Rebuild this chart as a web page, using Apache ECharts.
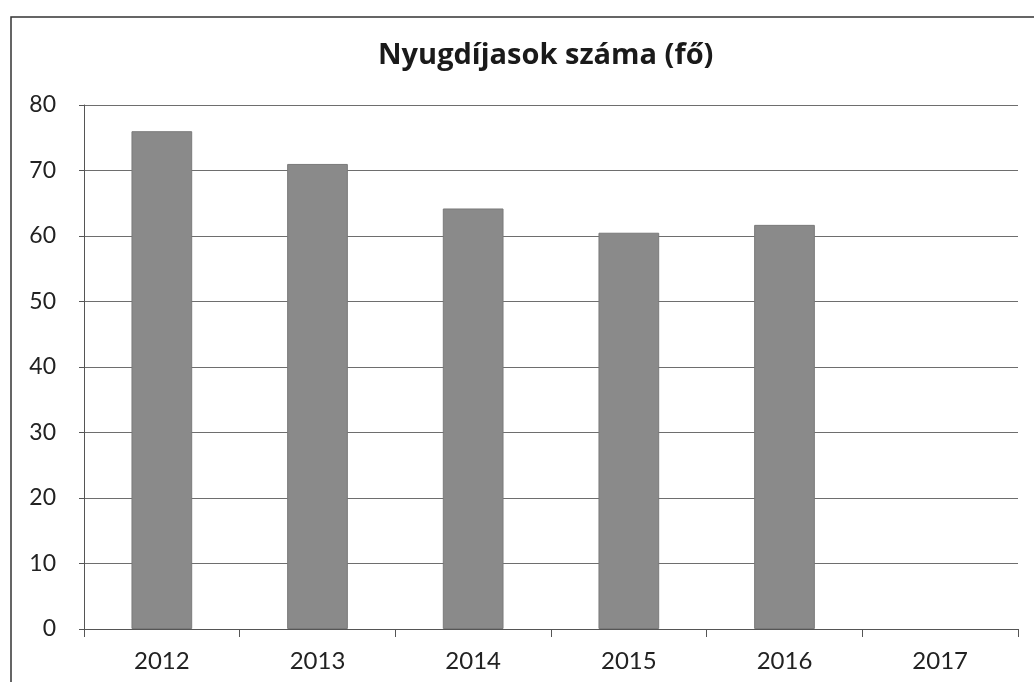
<!DOCTYPE html>
<html>
<head>
<meta charset="utf-8">
<script src="https://cdn.jsdelivr.net/npm/echarts@6/dist/echarts.min.js"></script>
<style>
  html, body { margin: 0; padding: 0; background: #fff; }
  #main { width: 1034px; height: 682px; }
</style>
</head>
<body>
<div id="main"></div>
<script>
// adatok
const years = ['2012', '2013', '2014', '2015', '2016', '2017'];
const pensioners = [76, 71, 64.2, 60.5, 61.7, null];
const yTicks = [0, 10, 20, 30, 40, 50, 60, 70, 80];

const chart = echarts.init(document.getElementById('main'), null, { renderer: 'canvas' });

chart.setOption({
  backgroundColor: '#fff',
  animation: false,
  title: {
    text: 'Nyugdíjasok száma (fő)',
    left: 373,
    top: 36,
    textStyle: { fontFamily: 'Open Sans', fontWeight: 'bold', fontSize: 29, color: '#1a1a1a' }
  },
  graphic: [{
    type: 'rect',
    shape: { x: 11, y: 17, width: 1100, height: 700 },
    style: { fill: 'none', stroke: '#333', lineWidth: 1.5 }
  }],
  grid: { left: 84, right: 16, top: 105, bottom: 53 },
  xAxis: {
    type: 'category',
    data: years,
    axisLine: { lineStyle: { color: '#555', width: 1 } },
    axisTick: { show: true, length: 8, lineStyle: { color: '#555' } },
    axisLabel: { fontFamily: 'Lato', fontSize: 24, color: '#222', margin: 20 }
  },
  yAxis: {
    type: 'value',
    min: yTicks[0],
    max: yTicks[yTicks.length - 1],
    interval: 10,
    axisLine: { show: true, lineStyle: { color: '#555', width: 1 } },
    axisTick: { show: true, length: 5, lineStyle: { color: '#555' } },
    axisLabel: { fontFamily: 'Lato', fontSize: 23, color: '#222', margin: 28 },
    splitLine: { lineStyle: { color: '#6e6e6e', width: 1 } }
  },
  series: [{
    type: 'bar',
    data: pensioners,
    barWidth: '39%',
    itemStyle: { color: '#8a8a8a', borderColor: '#7a7a7a', borderWidth: 1 }
  }]
});
</script>
</body>
</html>
